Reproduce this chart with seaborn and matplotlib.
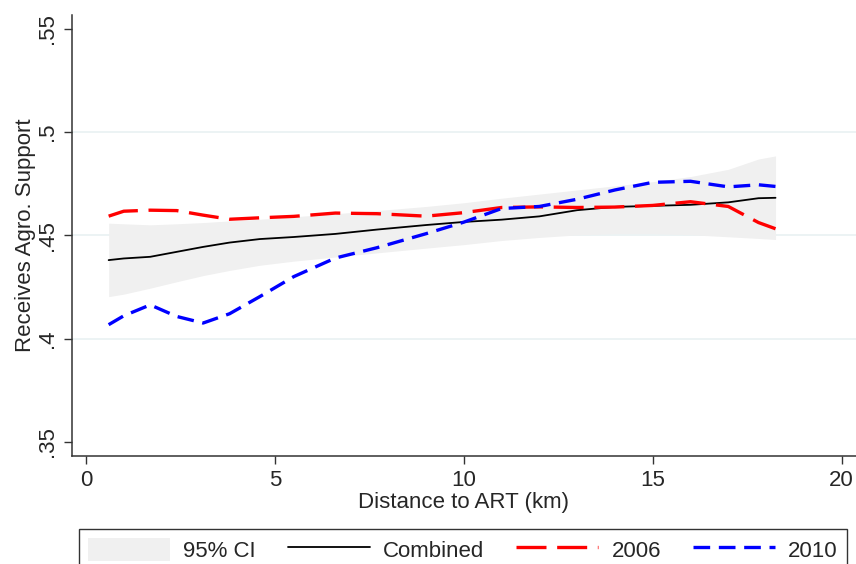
import pandas as pd
import matplotlib
matplotlib.use("Agg")
import matplotlib.pyplot as plt
import seaborn as sns
from matplotlib.lines import Line2D
from matplotlib.patches import Patch

# distance grid (km) and smoothed estimates
distance = [0.6, 1.0, 1.7, 2.4, 3.1, 3.8, 4.6, 5.5, 6.6, 7.7, 9.0, 10.0,
            11.0, 12.0, 13.0, 14.0, 15.0, 16.0, 17.0, 17.8, 18.25]
combined = [.4380, .4388, .4396, .4420, .4444, .4465, .4482, .4492, .4507,
            .4528, .4550, .4565, .4576, .4592, .4622, .4638, .4643, .4648,
            .4660, .4680, .4682]
ci_upper = [.4559, .4556, .4551, .4556, .4562, .4570, .4578, .4590, .4605,
            .4620, .4640, .4658, .4680, .4700, .4720, .4740, .4760, .4785,
            .4820, .4870, .4885]
ci_lower = [.4203, .4215, .4244, .4275, .4305, .4330, .4355, .4375, .4395,
            .4415, .4438, .4455, .4475, .4490, .4502, .4508, .4508, .4503,
            .4493, .4485, .4480]
y2006 = [.4593, .4617, .4622, .4620, .4598, .4578, .4585, .4592, .4608,
         .4605, .4593, .4610, .4635, .4638, .4635, .4637, .4645, .4663,
         .4640, .4562, .4532]
y2010 = [.4067, .4110, .4163, .4107, .4075, .4120, .4203, .4300, .4390,
         .4440, .4508, .4564, .4630, .4640, .4675, .4720, .4757, .4762,
         .4735, .4745, .4737]

x_ticks = [0, 5, 10, 15, 20]
y_ticks = [.35, .4, .45, .5, .55]
y_tick_labels = [".35", ".4", ".45", ".5", ".55"]

sns.set_style("white")
plt.rcParams["font.family"] = ["Liberation Sans", "DejaVu Sans"]
FS = 16

df = pd.DataFrame({"distance": distance, "combined": combined,
                   "y2006": y2006, "y2010": y2010})

fig = plt.figure(figsize=(8.56, 5.64), dpi=100)
ax = fig.add_axes([72 / 856, 1 - 455.7 / 564, 1 - 72 / 856, (455.7 - 15) / 564])

# light horizontal grid at the inner ticks
for g in [.4, .45, .5]:
    ax.axhline(g, color="#eaf2f3", lw=1.3, zorder=0)

ax.fill_between(df["distance"], ci_lower, ci_upper, color="#f0f0f0", lw=0, zorder=1)
sns.lineplot(data=df, x="distance", y="combined", ax=ax, color="black", lw=1.3, zorder=3)
sns.lineplot(data=df, x="distance", y="y2006", ax=ax, color="#ff0000", lw=2.4, zorder=4)
ax.lines[-1].set_dashes((9, 3.2))
sns.lineplot(data=df, x="distance", y="y2010", ax=ax, color="#0000ff", lw=2.4, zorder=5)
ax.lines[-1].set_dashes((5, 2.6))

ax.set_xlim(-0.37, 20.38)
ax.set_ylim(.3432, .5568)
ax.set_xticks(x_ticks)
ax.set_yticks(y_ticks)
ax.set_yticklabels(y_tick_labels, rotation=90, va="center")
ax.tick_params(axis="both", direction="out", length=6, width=1, color="#333333",
               labelsize=FS, pad=4, bottom=True, left=True)
ax.set_xlabel("Distance to ART (km)", fontsize=FS, labelpad=1)
ax.set_ylabel("Receives Agro. Support", fontsize=FS, labelpad=1)

for s in ["top", "right"]:
    ax.spines[s].set_visible(False)
for s in ["left", "bottom"]:
    ax.spines[s].set_color("#333333")
    ax.spines[s].set_linewidth(1.1)

handles = [
    Patch(facecolor="#f0f0f0", edgecolor="none"),
    Line2D([], [], color="black", lw=1.3),
    Line2D([], [], color="#ff0000", lw=2.4, dashes=(9, 3.2)),
    Line2D([], [], color="#0000ff", lw=2.4, dashes=(5, 2.6)),
]
labels = ["95% CI", "Combined", "2006", "2010"]
leg = fig.legend(handles, labels, loc="upper left", bbox_to_anchor=(79 / 856, 1 - 529 / 564),
                 ncol=4, fontsize=FS, frameon=True, fancybox=False, edgecolor="black",
                 handlelength=3.7, handleheight=1.2, handletextpad=0.6, columnspacing=1.42,
                 borderpad=0.4, borderaxespad=0)
leg.get_frame().set_linewidth(1.0)

fig.savefig("out.png", dpi=100)
